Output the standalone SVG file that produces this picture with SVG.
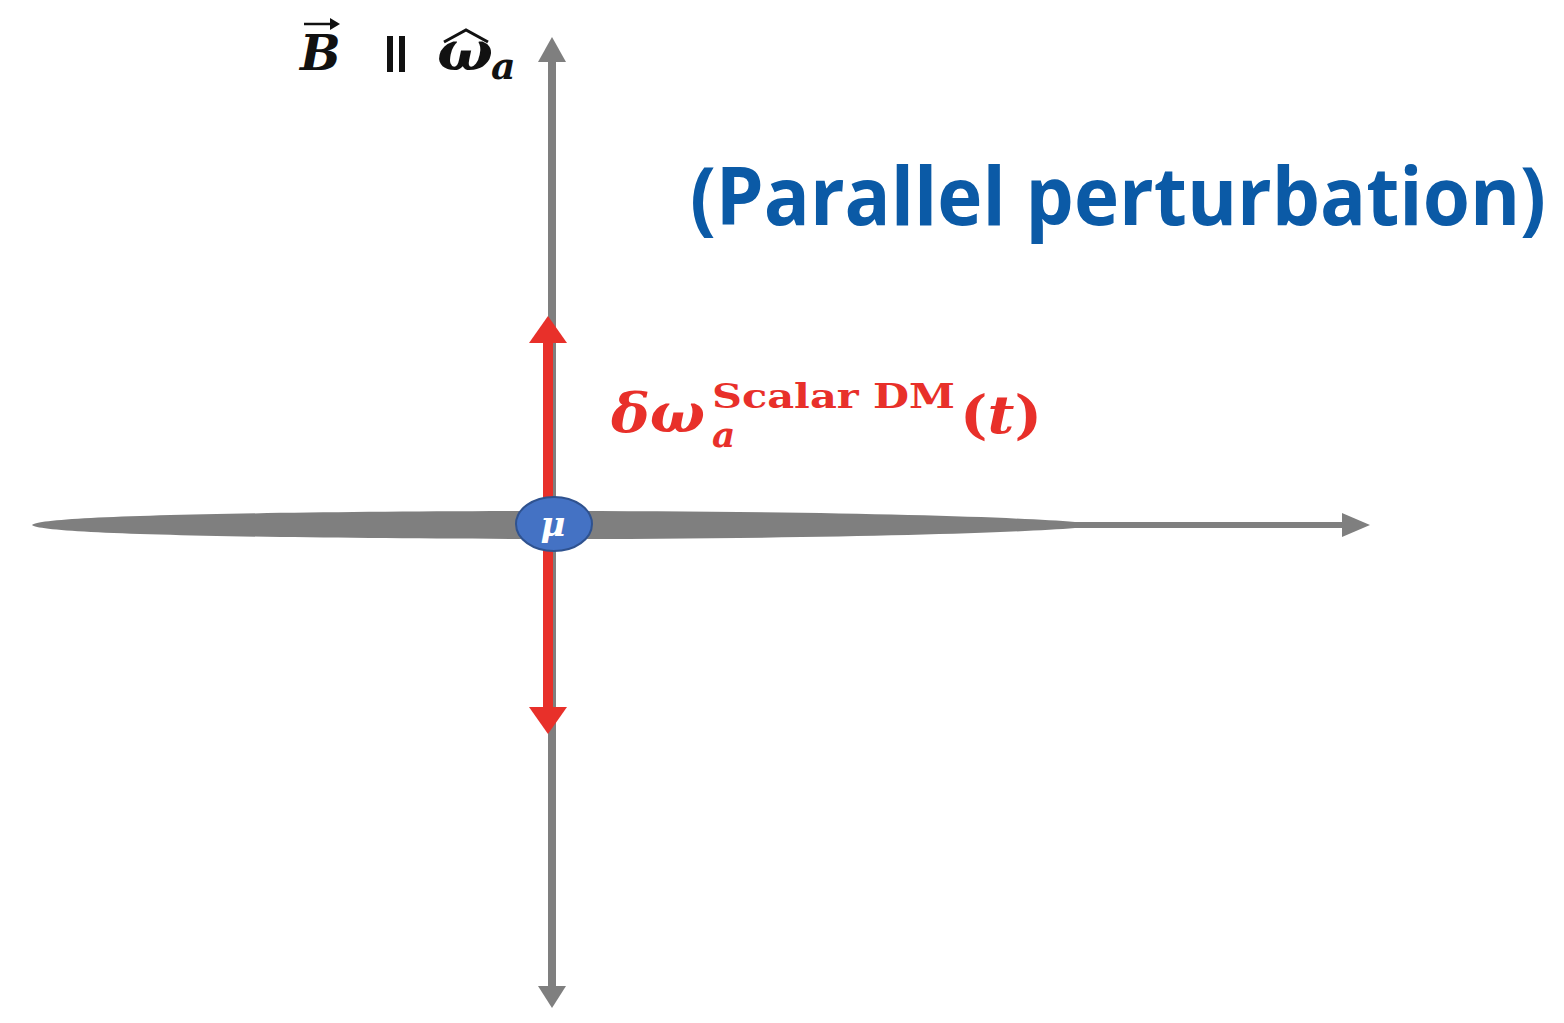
<svg xmlns="http://www.w3.org/2000/svg" width="1564" height="1023" viewBox="0 0 1564 1023">
<defs>
<style>
.ax{fill:#7f7f7f}
.red{fill:#e8302a}
.math{font-family:"DejaVu Serif","Liberation Serif",serif;font-weight:bold;font-style:italic}
</style>
</defs>
<rect width="1564" height="1023" fill="#fff"/>
<g id="connectors">
<rect class="ax" x="548" y="58" width="8" height="934"/>
<polygon class="ax" points="552,37 566,62 538,62"/>
<polygon class="ax" points="552,1008 566,986 538,986"/>
<path class="ax" d="M32,525 C40,517 200,512 540,511 C800,511 1000,516 1075,522 L1075,528 C1000,534 800,539 540,539 C200,538 40,533 32,525 Z"/>
<rect class="ax" x="1070" y="522" width="280" height="6"/>
<polygon class="ax" points="1370,525 1342,513 1342,537"/>
<rect class="red" x="543" y="340" width="10" height="370"/>
<polygon class="red" points="548,316 567,343 529,343"/>
<polygon class="red" points="548,734 567,707 529,707"/>
</g>
<g id="muon">
<ellipse cx="554" cy="524" rx="38" ry="27" fill="#4472c4" stroke="#2f528f" stroke-width="2"/>
<text x="553" y="536" class="math" font-size="34" fill="#fff" text-anchor="middle">μ</text>
</g>
<g id="axis-label">
<text x="300" y="70" class="math" font-size="48" fill="#111">B</text>
<path d="M304,24 L333,24" stroke="#111" stroke-width="2.5"/>
<polygon points="340,24 330,18 330,30" fill="#111"/>
<rect x="387" y="36" width="6" height="36" fill="#111"/>
<rect x="399" y="36" width="6" height="36" fill="#111"/>
<text x="437" y="70" class="math" font-size="54" fill="#111" textLength="56" lengthAdjust="spacingAndGlyphs">ω</text>
<path d="M444,42 L466,30 L488,42" fill="none" stroke="#111" stroke-width="3"/>
<text x="491" y="79" class="math" font-size="38" fill="#111">a</text>
</g>
<g id="title">
<text x="690" y="204.5" transform="scale(1,1.1)" font-family="'Open Sans','Liberation Sans',sans-serif" font-weight="bold" font-size="74" fill="#0b5aa6" textLength="856" lengthAdjust="spacingAndGlyphs">(Parallel perturbation)</text>
</g>
<g id="delta-label" fill="#e8302a">
<text x="611" y="432" class="math" font-size="54" textLength="94" lengthAdjust="spacingAndGlyphs">δω</text>
<text x="712" y="408" font-family="'DejaVu Serif','Liberation Serif',serif" font-weight="bold" font-size="34" textLength="243" lengthAdjust="spacingAndGlyphs">Scalar DM</text>
<text x="712" y="447" class="math" font-size="36">a</text>
<text x="960" y="433" font-family="'DejaVu Serif','Liberation Serif',serif" font-weight="bold" font-size="52" textLength="82" lengthAdjust="spacingAndGlyphs">(<tspan font-style="italic">t</tspan>)</text>
</g>
</svg>
